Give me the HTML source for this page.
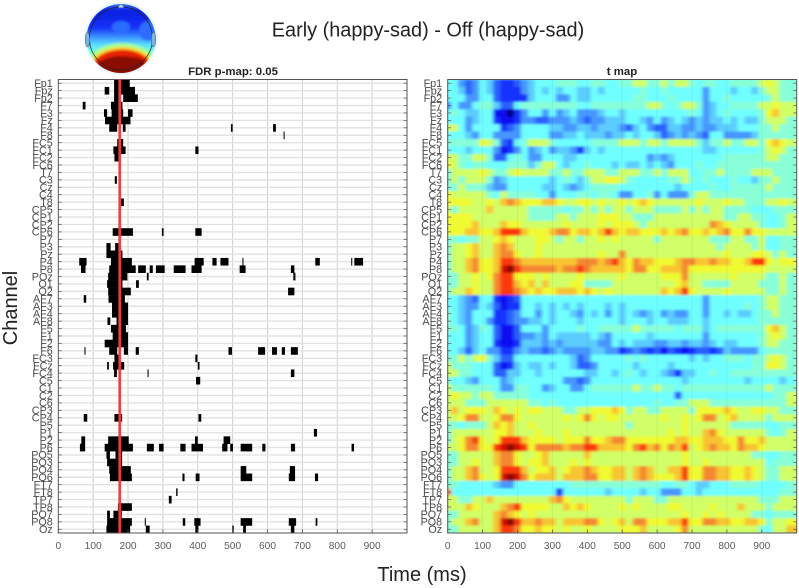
<!DOCTYPE html>
<html>
<head>
<meta charset="utf-8">
<title>Early (happy-sad) - Off (happy-sad)</title>
<style>
html,body{margin:0;padding:0;background:#fff;width:799px;height:588px;overflow:hidden}
svg{display:block;font-family:"Liberation Sans",sans-serif}
</style>
</head>
<body>
<svg id="chart" width="799" height="588" viewBox="0 0 799 588" xmlns="http://www.w3.org/2000/svg">
<defs>
<linearGradient id="topoGrad" x1="0" y1="0" x2="0" y2="1">
<stop offset="0" stop-color="#3c80ff"/><stop offset="0.1" stop-color="#0e1ee0"/><stop offset="0.34" stop-color="#1430f8"/>
<stop offset="0.47" stop-color="#3c90ff"/><stop offset="0.58" stop-color="#58e0ff"/><stop offset="0.68" stop-color="#70ffd8"/>
<stop offset="1" stop-color="#70ffd8"/>
</linearGradient>
<clipPath id="topoClip"><circle cx="121" cy="38.5" r="34.5"/></clipPath>
<clipPath id="heatClip"><rect x="447.7" y="79.5" width="349" height="453.5"/></clipPath>
<filter id="soft" x="440" y="70" width="365" height="475" filterUnits="userSpaceOnUse"><feGaussianBlur stdDeviation="1.8 1.1"/></filter>
<filter id="topoBlur" x="70" y="-10" width="100" height="100" filterUnits="userSpaceOnUse"><feGaussianBlur stdDeviation="1.2"/></filter>
</defs>

<g>
  <circle cx="121" cy="38.5" r="36.5" fill="#e6f7ff"/>
  <g clip-path="url(#topoClip)">
    <g filter="url(#topoBlur)">
      <rect x="80" y="3" width="82" height="72" fill="url(#topoGrad)"/>
      <ellipse cx="148" cy="31" rx="9" ry="10" fill="#2f6cff"/>
      <ellipse cx="121" cy="27" rx="9" ry="6" fill="#2c6cff"/>
      <ellipse cx="122" cy="67" rx="36" ry="24" fill="#a8ff90"/>
      <ellipse cx="122" cy="67" rx="32" ry="20" fill="#ffd020"/>
      <ellipse cx="122" cy="67" rx="29" ry="17.5" fill="#e82000"/>
      <ellipse cx="122" cy="67" rx="25" ry="11" fill="#8a1000"/>
      <ellipse cx="130" cy="62" rx="14" ry="5" fill="#8a1000"/>
      <path d="M84 8 A40 30 0 0 1 158 8 L158 0 L84 0 Z" fill="#4a9cff"/>
    </g>
  </g>
  <circle cx="121" cy="38.5" r="31.5" fill="none" stroke="#222" stroke-width="0.7"/>
  <ellipse cx="87.5" cy="39.5" rx="2.2" ry="7.5" fill="#7fb4e0" stroke="#445" stroke-width="0.5"/>
  <ellipse cx="153.5" cy="39.5" rx="2.2" ry="7.5" fill="#7fb4e0" stroke="#445" stroke-width="0.5"/>
  <path d="M118 7.5 Q121 1 124 7.5" fill="#bde" stroke="#445" stroke-width="0.5"/>
</g>

<text x="428" y="36.5" font-size="19.9" text-anchor="middle" fill="#222">Early (happy-sad) - Off (happy-sad)</text>
<text x="233" y="75" font-size="11.4" font-weight="bold" text-anchor="middle" fill="#222">FDR p-map: 0.05</text>
<text x="622" y="75" font-size="11.4" font-weight="bold" text-anchor="middle" fill="#222">t map</text>
<text x="0" y="0" font-size="20" text-anchor="middle" fill="#222" transform="translate(17,308) rotate(-90)">Channel</text>
<text x="422" y="581" font-size="20" text-anchor="middle" fill="#222">Time (ms)</text>

<g id="leftPanel"></g>
<g id="rightPanel"></g>
</svg>

<script>
const channels = ["Fp1","Fpz","Fp2","F7","F3","Fz","F4","F8","FC5","FC1","FC2","FC6","T7","C3","Cz","C4","T8","CP5","CP1","CP2","CP6","P7","P3","Pz","P4","P8","POz","O1","O2","AF7","AF3","AF4","AF8","F5","F1","F2","F6","FC3","FCz","FC4","C5","C1","C2","C6","CP3","CP4","P5","P1","P2","P6","PO5","PO3","PO4","PO6","FT7","FT8","TP7","TP8","PO7","PO8","Oz"];
const timeTicks = [0,100,200,300,400,500,600,700,800,900];
const timeMax = 1000;
const binMs = 20;
const markerMs = 176;

/* significant time windows (ms) for each channel, same order as channels */
const sigWindows = [
[[160,205]],
[[133,146],[160,220]],
[[160,175],[186,228]],
[[70,78],[151,184]],
[[131,140],[153,186],[200,213]],
[[134,207]],
[[146,169],[185,193],[495,500],[616,624]],
[[646,649]],
[[169,186]],
[[158,193],[393,402]],
[[161,175]],
[],[],
[[162,168]],
[],[],
[[180,188]],
[],[],[],
[[156,214],[297,302],[393,411]],
[],
[[138,150],[163,175]],
[[138,184]],
[[60,81],[151,211],[391,417],[442,454],[465,488],[528,531],[737,750],[840,843],[849,874]],
[[65,78],[146,222],[229,251],[262,271],[280,305],[331,365],[382,411],[520,537],[667,677]],
[[143,198],[254,259],[674,680]],
[[140,184],[223,231]],
[[143,208],[659,677]],
[[73,80],[144,191]],
[[154,200]],
[[154,200]],
[[141,149],[167,200]],
[[151,194]],
[[156,200]],
[[133,200]],
[[75,78],[146,169],[188,200],[222,231],[488,498],[573,593],[613,627],[641,650],[667,687]],
[[161,174],[393,399]],
[[140,145],[157,189],[400,405]],
[[160,168],[256,259],[667,677]],
[[174,177],[395,407]],
[],[],[],[],
[[73,83],[161,183],[402,410]],
[],
[[733,742]],
[[66,77],[143,202],[392,400],[474,493]],
[[62,77],[133,214],[254,274],[289,302],[350,365],[382,415],[470,485],[493,501],[523,556],[585,594],[667,679],[841,848]],
[[138,148],[164,183]],
[[140,183]],
[[146,208],[523,539],[664,679]],
[[148,211],[356,362],[394,405],[523,556],[661,679],[736,745]],
[],
[[338,342]],
[[317,325]],
[[171,211]],
[[140,148],[158,182]],
[[140,211],[248,251],[357,364],[390,408],[523,556],[661,682],[738,743]],
[[138,206],[251,262],[393,402],[499,503],[530,538],[667,677]]
];

/* t values per channel, one value per 20 ms sample */
const tValues = [
[-1,-1,-3,-4,-3,-1,-2,-4,-5,-5,-4,-3,-2,-1,-1,-1,0,0,0,-1,-1,0,0,-1,-1,0,0,1,1,0,0,1,0,1,1,0,-1,0,0,-1,-1,0,0,0,0,1,2,1,0,0],
[-1,-1,-2,-4,-3,-1,-2,-4,-5,-5,-5,-3,-2,-1,-2,-1,-2,-1,-1,-2,-2,-1,-2,-1,-1,-1,-1,-1,0,-1,-1,0,-1,-1,-1,-1,-1,-3,-1,-1,-1,-2,-1,-1,-2,0,1,1,0,0],
[-1,-1,-1,-3,-3,-1,-1,-4,-5,-5,-5,-5,-2,-1,-1,-1,-3,-3,-1,-2,-2,-1,-1,-1,-1,-1,-1,0,0,-1,-1,-1,0,-1,-1,-1,-1,-3,-1,-1,0,-1,-1,-1,-1,-1,0,1,0,0],
[-3,-1,-3,-3,-1,0,0,-2,-4,-4,-1,0,0,0,0,0,0,0,0,-1,-1,0,0,0,0,0,0,0,0,1,1,0,-1,0,1,1,0,-3,-2,-1,-1,0,0,0,0,1,1,2,1,1],
[-1,0,-1,-2,-2,-1,-1,-6,-6,-7,-5,-3,-1,-1,-3,-1,-3,-2,-1,-3,-3,-3,-2,-1,-1,-2,-1,-1,-1,-1,-1,-1,-1,-1,-1,0,-1,-3,-2,-1,0,-1,-1,-1,-1,0,2,3,1,1],
[-1,-1,-1,-3,-2,-1,-1,-5,-6,-6,-5,-3,-3,-4,-4,-3,-3,-3,-2,-3,-4,-3,-3,-2,-2,-2,-1,-1,-2,-3,-1,-3,-2,-1,-2,-3,-2,-3,-2,-2,-1,-2,-1,-2,-2,0,1,1,1,0],
[1,1,-1,-3,-1,-1,-1,-1,-5,-4,-3,-1,-1,-1,-1,-2,-2,-3,-3,-2,-2,-3,-2,-2,-2,-3,-4,-2,-1,-3,-4,-4,-2,-2,-3,-3,-2,-3,-3,-2,-2,-2,-1,-1,-1,0,0,1,0,0],
[-1,-1,-1,-2,-3,-1,-1,-3,-3,-3,-3,-1,-1,-1,-1,-3,-3,-2,-2,-1,-2,-2,-2,-3,-2,-2,-1,-2,-1,-1,-2,-4,-3,-2,-3,-2,-3,-4,-1,-1,-3,-3,-3,-3,-2,0,0,0,0,0],
[0,0,0,0,0,2,1,0,-4,-5,-1,0,1,1,1,0,-1,-1,-1,-1,-1,0,0,0,0,1,1,1,0,1,1,0,1,1,1,1,0,-2,0,0,1,0,0,1,1,0,2,3,2,1],
[-1,-1,-1,-2,-1,-1,-1,-3,-6,-5,-3,-1,-3,-2,-1,-3,-2,-2,-3,-5,-2,-1,-2,-1,-1,-1,-1,-1,-1,-1,-1,-1,-1,-1,-1,-1,-1,-2,-2,-1,-1,-1,-1,-1,-1,0,1,2,1,0],
[1,1,0,0,1,1,0,-4,-4,-1,0,-1,-3,-3,-1,-1,-1,-2,-2,-1,-1,-1,-1,-1,-1,-1,-1,-1,-1,-3,-2,-3,-2,-1,-1,-1,-1,-1,-1,-1,0,0,0,0,0,0,1,1,0,0],
[2,1,0,-1,0,0,-1,-1,-1,0,0,0,-2,0,1,1,-1,-2,-1,-1,0,-1,-1,-1,-2,-1,-2,-2,-1,-2,-1,-2,-3,-1,-1,-1,0,-1,-1,0,0,0,0,0,0,0,0,0,0,0],
[0,1,1,1,1,2,1,0,0,1,2,1,1,1,1,0,0,1,0,0,1,1,1,0,0,1,1,1,0,0,1,0,1,1,1,-1,-1,0,0,1,0,0,0,0,1,1,1,0,0,0],
[0,1,0,1,1,1,0,-3,-2,-1,-1,-1,-1,-1,-1,-2,-1,0,-1,-2,0,1,1,2,2,1,0,-1,-1,-1,-1,-1,0,0,1,0,-1,0,-1,-1,-1,0,-1,-1,-2,0,0,1,0,0],
[0,0,1,0,0,0,-2,-3,-3,-1,-1,-1,-1,-1,-2,-2,-1,-2,-3,-2,-1,0,0,0,0,-1,-1,-1,-1,-1,-1,-1,-1,-2,-1,-1,-1,-1,0,-1,-1,0,0,0,0,0,1,0,0,0],
[2,1,1,1,1,1,0,-1,1,0,0,0,0,-1,-1,-3,-1,-1,-1,0,0,-1,0,0,-1,-3,-3,-1,-1,0,-3,-1,-3,-3,-3,0,1,1,0,0,0,0,0,0,0,0,0,0,0,0],
[2,2,2,2,1,1,2,1,3,4,3,2,2,2,3,3,2,1,1,2,2,1,2,1,1,2,1,2,3,2,1,1,1,1,1,1,2,1,1,1,2,1,1,0,0,0,1,1,2,1],
[1,0,1,1,1,1,3,1,1,1,1,1,0,0,0,0,0,-1,0,0,1,0,1,0,1,1,0,1,1,1,0,0,0,0,1,0,1,0,1,1,0,0,0,0,-1,-1,-1,0,0,0],
[2,2,2,2,1,1,1,1,1,1,1,1,0,0,0,0,1,1,0,1,1,1,2,2,2,1,1,0,0,0,1,1,1,1,1,1,1,1,1,1,0,0,1,1,0,0,-1,-1,0,1],
[2,2,2,2,3,1,1,1,3,2,2,1,1,1,1,1,1,2,1,1,1,1,2,1,2,2,2,1,0,1,1,1,1,1,1,1,1,1,4,3,2,1,1,1,1,0,-1,-1,0,1],
[2,2,2,3,3,2,2,3,5,5,5,3,2,2,2,3,4,4,2,3,3,2,3,5,3,2,3,3,2,2,2,3,2,3,4,2,2,3,2,3,4,2,2,4,2,2,1,1,1,1],
[0,0,-1,0,0,1,1,2,3,2,1,1,1,2,2,1,0,1,1,0,1,1,2,1,2,1,1,1,1,1,0,1,1,1,1,1,1,1,0,0,0,1,1,0,0,1,-1,-1,0,0],
[0,1,1,2,3,1,1,3,4,3,1,1,1,2,1,1,1,1,1,1,1,1,1,1,1,1,1,1,1,1,1,1,1,1,1,1,1,1,1,0,1,1,1,1,0,1,-1,-1,0,0],
[0,1,1,2,3,1,1,3,4,4,2,1,1,2,1,1,1,1,1,1,1,1,2,1,1,4,1,1,1,1,1,1,1,1,1,1,1,1,1,1,2,1,1,1,2,2,1,0,1,0],
[0,1,1,3,4,2,2,3,5,5,4,3,3,3,3,3,3,3,3,4,4,4,3,4,5,3,2,4,3,3,2,2,2,3,4,4,3,3,4,3,3,2,2,3,5,5,2,1,2,2],
[0,1,1,3,4,2,2,3,6,7,5,4,4,4,4,4,3,4,4,5,4,3,3,3,3,3,2,4,4,2,2,3,3,3,4,2,2,2,2,2,2,2,2,2,2,2,1,1,1,1],
[0,0,1,1,2,1,2,4,5,5,2,2,2,1,2,1,1,1,1,2,1,1,1,1,1,2,1,1,1,1,1,2,2,2,4,1,1,1,1,1,1,2,1,1,1,1,0,0,1,0],
[0,0,1,1,2,1,1,4,5,5,3,2,3,1,3,1,1,1,2,2,0,0,0,0,1,1,1,1,1,1,1,1,1,2,3,1,1,0,0,0,0,1,1,1,1,0,0,0,1,0],
[0,1,1,3,2,1,1,4,5,5,4,3,2,3,2,2,3,3,3,2,3,2,1,2,1,1,1,1,1,1,1,3,2,3,5,2,1,1,1,1,2,1,1,1,1,1,0,0,1,0],
[-1,-1,-2,-3,-4,-1,-1,-5,-6,-5,-4,-1,-1,-1,-1,-1,-1,-1,-1,-1,-1,-1,-1,-1,-1,-1,-1,-1,-1,-1,-1,-1,-1,-1,-1,-1,-1,-3,-1,-1,-1,-1,-1,-1,-1,0,1,1,0,0],
[-1,-1,-2,-3,-3,-1,-2,-4,-6,-5,-5,-1,-1,-2,-1,-2,-1,-2,-1,-2,-1,-1,-1,-2,-1,-2,-1,-1,-1,-1,-1,-1,-1,-1,-1,-1,-1,-3,-1,-1,-1,-1,-1,0,-1,0,1,1,0,0],
[0,-1,-2,-3,-1,-1,-1,-5,-5,-4,-3,-1,-1,-3,-1,-2,-1,-1,-2,-3,-1,-2,-1,-3,-1,-2,-1,-2,-3,-2,-1,-3,-2,-3,-3,-1,-1,-3,-1,-1,-2,-1,-2,-2,-1,0,0,1,0,0],
[0,-1,-2,-3,-1,-1,-3,-5,-5,-4,-3,-3,-2,-2,-1,-2,-1,-1,-1,-2,-1,-1,-1,-1,-1,-2,-1,-1,-1,-2,-1,-1,-2,-2,-2,-1,-1,-2,-1,-1,-1,-1,-1,-1,-1,0,0,0,0,0],
[0,0,-1,-3,-2,0,-1,-4,-6,-6,-4,-1,-1,-1,-3,-1,-1,-1,-1,0,-1,-1,0,0,0,0,0,1,0,0,0,0,0,-1,0,0,0,-2,-1,0,0,0,0,0,0,0,2,3,1,0],
[-1,-1,-1,-3,-2,-1,-1,-4,-6,-6,-4,-3,-3,-2,-3,-1,-2,-2,-2,-2,-2,-1,-2,-3,-1,-1,-1,-1,-1,-2,-1,-1,-1,-1,-1,-1,-1,-3,-1,-1,-1,-1,-1,-1,-1,0,1,2,1,0],
[-1,-1,-1,-3,-2,-1,-1,-5,-6,-6,-5,-2,-2,-2,-3,-2,-3,-2,-2,-2,-2,-2,-3,-3,-1,-2,-1,-2,-2,-2,-3,-3,-2,-2,-3,-2,-2,-3,-2,-1,-2,-2,-1,-1,-1,0,1,1,0,0],
[-1,-1,-2,-4,-2,-1,-3,-3,-5,-5,-3,-2,-3,-3,-4,-3,-2,-3,-3,-3,-3,-2,-2,-3,-3,-5,-4,-3,-4,-5,-4,-6,-4,-5,-6,-5,-4,-4,-5,-4,-2,-3,-3,-3,-3,-1,0,0,0,0],
[0,0,1,0,1,2,0,-2,-4,-4,-1,-1,-1,-1,-1,-1,-1,-1,-2,-4,-3,-1,-1,-1,-1,-1,0,-1,0,-1,-1,-1,-1,-1,-1,-2,-1,-2,-1,-1,0,0,0,-1,0,0,1,2,1,0],
[1,0,0,0,-1,-1,-1,-4,-6,-5,-2,-1,-2,-2,-1,-2,-1,-1,-2,-4,-4,-3,-1,-1,-1,-1,-1,-2,-1,-1,-1,-1,-2,-1,-1,-1,-1,-1,-1,-1,-1,-1,-1,-1,0,0,2,2,1,0],
[1,1,0,0,-1,-1,-1,-4,-4,-2,-2,-1,-1,-2,-1,-1,-1,-1,-1,-1,-2,-2,-1,-1,-2,-1,0,-1,-2,-1,-1,-2,-3,-5,-2,-2,-1,-1,0,-1,-1,0,0,0,0,0,0,0,0,0],
[0,-1,-1,-2,-3,-1,-1,-1,-3,-2,-1,-1,-1,-1,-1,-1,-1,-3,-3,-4,-3,-1,-1,-1,-1,-1,-1,-1,-1,-1,-1,-1,-1,-1,-2,-1,-1,-1,-1,-1,-1,-1,-1,-2,-1,-1,-1,-1,-2,-1],
[1,0,0,0,0,0,0,-1,-3,-3,0,0,-1,-1,-3,-2,-1,-1,-3,-3,-1,0,0,0,0,0,0,1,0,0,1,0,0,-1,0,0,0,0,0,0,0,0,0,0,0,0,1,0,0,0],
[1,2,1,1,0,1,1,0,0,0,0,0,-1,-1,-1,-1,-1,-1,-1,-1,-1,-1,-1,-1,-1,-1,-1,-1,-1,-1,-1,-1,-1,-4,-1,-1,-1,-1,-1,-1,-1,-1,-1,-1,-1,-1,-1,0,0,1],
[1,1,1,0,0,0,1,1,1,1,1,1,0,0,-1,0,-1,-1,-1,-1,-1,-1,-1,-1,-1,-1,-1,-1,-1,-1,0,-1,-1,0,0,1,1,1,0,0,0,0,0,0,0,0,0,0,0,1],
[1,3,1,2,2,2,1,3,2,1,2,1,2,2,1,1,1,0,0,1,1,2,2,2,3,2,0,1,1,0,0,1,1,1,1,0,2,2,2,2,3,2,1,1,2,2,1,1,0,0],
[1,1,2,4,4,1,1,2,4,4,2,1,1,1,1,1,1,2,1,2,4,2,1,2,2,1,1,1,1,1,1,2,1,1,2,1,2,4,4,1,2,3,1,1,1,1,0,1,1,1],
[0,0,-1,0,0,0,1,3,2,3,1,1,2,1,1,1,1,1,1,1,1,1,1,1,1,1,0,1,1,1,1,1,1,1,2,1,1,1,1,1,1,0,0,0,0,0,-1,-1,0,0],
[0,1,1,1,1,1,1,2,2,3,1,1,1,2,1,1,1,2,1,1,1,1,1,1,1,1,1,1,1,1,1,1,2,1,2,1,1,3,4,2,1,1,1,1,1,1,0,-1,0,1],
[0,1,2,4,5,2,1,2,5,5,5,3,2,2,2,2,1,2,2,2,4,2,2,3,4,4,2,2,2,2,2,2,2,3,3,2,2,3,3,3,2,2,4,2,2,3,1,1,1,1],
[1,1,2,4,4,2,2,5,6,7,6,5,2,4,4,4,4,3,4,4,5,5,3,3,3,3,2,4,5,3,4,2,4,3,5,1,2,3,4,3,3,2,4,3,3,2,1,1,1,1],
[0,0,1,1,1,1,1,3,4,4,2,1,1,2,3,1,1,1,1,1,3,1,1,1,1,1,1,1,1,1,1,1,1,1,2,1,1,1,1,1,1,1,1,1,0,0,-1,-1,0,0],
[0,0,1,1,2,1,1,3,4,4,2,1,2,2,3,1,1,1,2,1,2,1,1,1,1,1,1,1,1,1,1,1,1,1,2,1,1,2,1,1,1,1,1,1,1,1,-1,0,0,0],
[0,1,1,3,4,1,1,2,5,5,5,3,1,2,2,3,1,2,3,3,4,3,2,2,3,3,1,3,4,3,1,1,3,3,5,2,2,4,4,3,3,2,2,3,2,1,0,0,1,1],
[0,1,1,3,4,2,1,2,6,7,6,4,2,3,3,3,1,3,3,3,4,4,2,2,3,3,1,3,4,3,2,2,2,3,5,2,2,4,4,3,3,2,2,3,2,1,0,0,1,1],
[0,0,-1,-1,-1,-1,-1,-2,-3,-3,-1,-1,-1,-1,-1,-1,-1,-1,0,0,0,0,0,0,0,0,0,0,0,0,0,-1,-1,0,0,-1,-2,-2,-1,-1,-1,0,0,0,0,-1,-1,-1,-1,0],
[4,-1,-1,-1,-1,-1,-1,-1,-1,-1,-1,-1,-1,-1,-1,-1,-5,-1,-1,-1,-1,-1,-1,-2,-1,-1,-1,-1,-2,-1,-1,-3,-3,-3,-1,-1,-2,-1,-1,-1,-1,-1,-1,-1,-1,-1,-1,-1,0,0],
[1,1,0,0,1,1,3,1,1,1,1,1,1,1,1,3,4,2,1,1,1,1,1,1,1,1,0,1,1,1,0,0,1,1,1,1,1,1,1,1,1,1,1,1,1,0,0,0,1,1],
[1,1,1,3,2,1,1,1,3,4,5,2,2,2,2,1,1,3,2,3,2,1,1,1,1,2,1,2,1,1,1,1,2,2,1,1,1,1,2,1,1,1,3,1,1,1,0,1,1,1],
[0,0,1,1,1,1,1,3,4,3,2,1,2,1,1,1,1,1,1,1,1,1,1,1,1,1,1,1,1,1,1,1,1,1,2,1,1,2,1,2,1,1,1,1,0,0,-1,0,0,0],
[0,1,1,3,4,1,1,3,6,7,5,3,3,4,3,3,1,3,3,3,4,4,2,1,2,3,1,4,4,2,2,2,3,3,5,2,2,4,4,3,3,2,2,3,3,2,0,1,1,2],
[0,0,1,1,1,1,1,3,5,5,4,2,2,3,2,2,1,2,1,1,2,1,1,1,1,2,2,2,3,1,1,1,1,2,4,1,1,1,1,1,1,1,1,1,1,0,-1,1,1,3]
];

const colorLevels = [-7,-6,-5,-4,-3,-2,-1,0,1,2,3,4,5,6,7];
const colorRed   = [0,8,20,44,70,92,112,136,208,240,248,244,252,216,128];
const colorGreen = [0,8,48,96,150,204,255,255,255,250,196,136,56,16,16];
const colorBlue  = [128,240,255,255,255,255,255,216,104,48,48,48,16,0,0];

const SVGNS = "http://www.w3.org/2000/svg";
const LEFT = {x0:58.3, x1:407, y0:79.5, y1:533};
const RIGHT = {x0:447.7, x1:796.7, y0:79.5, y1:533};

function xScale(panel, ms){ return panel.x0 + ms/timeMax*(panel.x1-panel.x0); }
function yTop(panel, i){ return panel.y0 + i*(panel.y1-panel.y0)/channels.length; }
function yMid(panel, i){ return yTop(panel, i+0.5); }
function rowHeight(panel){ return (panel.y1-panel.y0)/channels.length; }
function tColor(v){
  const n = colorLevels.length;
  if(v<=colorLevels[0]) return "rgb("+colorRed[0]+","+colorGreen[0]+","+colorBlue[0]+")";
  if(v>=colorLevels[n-1]) return "rgb("+colorRed[n-1]+","+colorGreen[n-1]+","+colorBlue[n-1]+")";
  let k=0; while(v>colorLevels[k+1]) k++;
  const f=(v-colorLevels[k])/(colorLevels[k+1]-colorLevels[k]);
  const mix=a=>Math.round(a[k]+(a[k+1]-a[k])*f);
  return "rgb("+mix(colorRed)+","+mix(colorGreen)+","+mix(colorBlue)+")";
}
function make(parent, tag, attrs, txt){
  const e=document.createElementNS(SVGNS,tag);
  for(const k in attrs) e.setAttribute(k,attrs[k]);
  if(txt!==undefined) e.textContent=txt;
  parent.appendChild(e);
  return e;
}

function drawGrid(g, panel){
  timeTicks.forEach(function(t){
    if(t===0) return;
    const l=make(g,"line",{x1:xScale(panel,t),x2:xScale(panel,t),y1:panel.y0,y2:panel.y1,stroke:"#cfcfcf","stroke-width":1});
    
    
  });
  channels.forEach(function(c,i){
    const l=make(g,"line",{x1:panel.x0,x2:panel.x1,y1:yMid(panel,i),y2:yMid(panel,i),stroke:"#e2e2e2","stroke-width":1.4});
    
    
  });
}
function drawFrame(g, panel){
  const box=make(g,"rect",{x:panel.x0,y:panel.y0,width:panel.x1-panel.x0,height:panel.y1-panel.y0,fill:"none",stroke:"#555","stroke-width":1});
  
  
  timeTicks.forEach(function(t){
    const tx=xScale(panel,t);
    const tk=make(g,"line",{x1:tx,x2:tx,y1:panel.y1,y2:panel.y1-3.5,stroke:"#555","stroke-width":0.8});
    
    
    const lb=make(g,"text",{x:tx,y:549,"font-size":10.2,"text-anchor":"middle",fill:"#5a5a5a"},String(t));
    
    
  });
  channels.forEach(function(c,i){
    const ty=yMid(panel,i);
    [[panel.x0,panel.x0+3.5],[panel.x1,panel.x1-3.5]].forEach(function(p){
      const tk=make(g,"line",{x1:p[0],x2:p[1],y1:ty,y2:ty,stroke:"#555","stroke-width":0.7});
      
      
    });
    const lb=make(g,"text",{x:panel.x0-5.5,y:ty+3.8,"font-size":10.8,"text-anchor":"end",fill:"#4a4a4a"},c);
    
    
  });
}

/* left panel */
const gL=document.getElementById("leftPanel");
drawGrid(gL,LEFT);
sigWindows.forEach(function(wins,i){
  wins.forEach(function(w){
    const r=make(gL,"rect",{x:xScale(LEFT,w[0]),y:yTop(LEFT,i),width:xScale(LEFT,w[1])-xScale(LEFT,w[0]),height:rowHeight(LEFT)+0.2,fill:"#000"});
    
    
  });
});
drawFrame(gL,LEFT);
const marker=make(gL,"line",{x1:xScale(LEFT,markerMs),x2:xScale(LEFT,markerMs),y1:LEFT.y0,y2:LEFT.y1,stroke:"#f23a40","stroke-width":2.6});



/* right panel: each sample's cell is centred on its time */
const gR=document.getElementById("rightPanel");
const clip=make(gR,"g",{"clip-path":"url(#heatClip)"});


const bg=make(clip,"rect",{x:RIGHT.x0,y:RIGHT.y0,width:RIGHT.x1-RIGHT.x0,height:RIGHT.y1-RIGHT.y0,fill:"#80ffe8"});


const soft=make(clip,"g",{filter:"url(#soft)"});
tValues.forEach(function(row,i){
  row.forEach(function(v,j){
    const x0=xScale(RIGHT,(j-0.5)*binMs);
    const x1=j===row.length-1 ? xScale(RIGHT,timeMax+binMs) : xScale(RIGHT,(j+0.5)*binMs);
    const c=make(soft,"rect",{x:x0,y:yTop(RIGHT,i),width:x1-x0+0.5,height:rowHeight(RIGHT)+0.5,fill:tColor(v)});
    
    
  });
});
timeTicks.forEach(function(t){
  if(t===0) return;
  const l=make(clip,"line",{x1:xScale(RIGHT,t),x2:xScale(RIGHT,t),y1:RIGHT.y0,y2:RIGHT.y1,stroke:"#000","stroke-opacity":0.06,"stroke-width":1});
  
  
});
drawFrame(gR,RIGHT);
</script>
</body>
</html>
